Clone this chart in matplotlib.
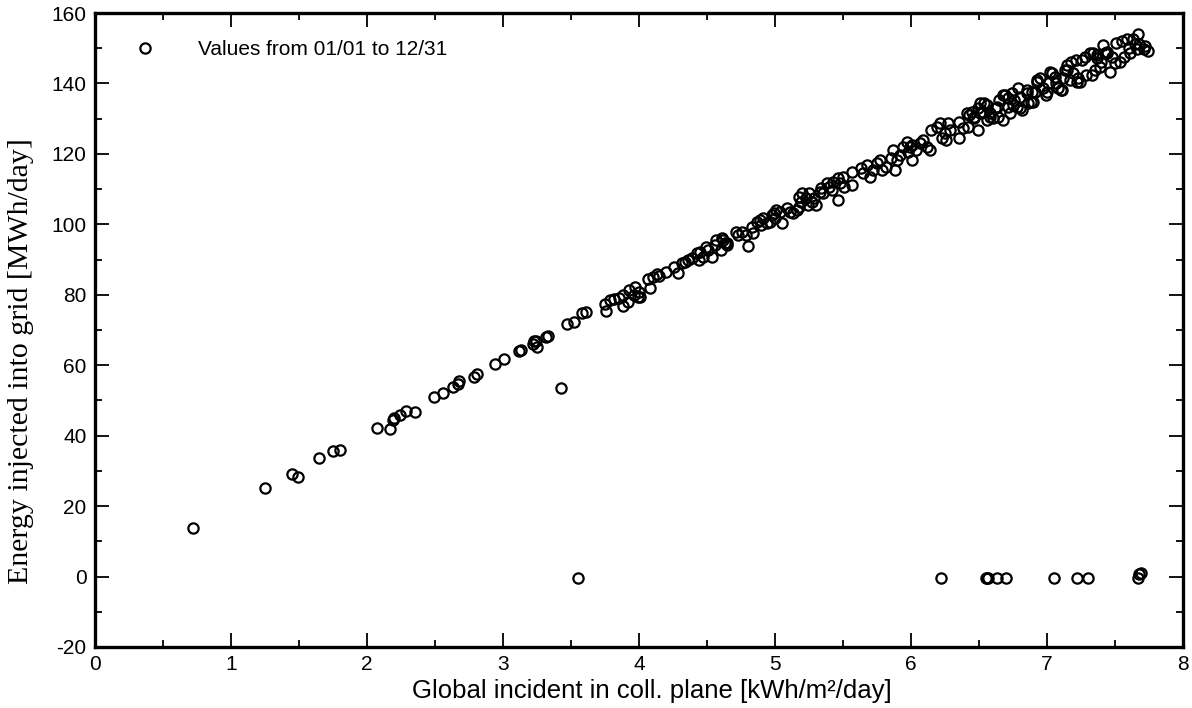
"""Daily grid injection versus global incident irradiation (scatter)."""

import matplotlib

matplotlib.use("Agg")
import matplotlib.pyplot as plt
from matplotlib.ticker import MultipleLocator

plt.rcParams["axes.unicode_minus"] = False

# Low-irradiation days and the obvious outlier
low_x = [0.72, 1.25, 1.45, 1.49, 1.65, 1.75, 1.80, 2.07, 2.17, 2.19, 2.20, 2.24,
         2.29, 2.35, 2.49, 2.56, 2.63, 2.67, 2.68, 2.79, 2.81, 2.94, 3.01, 3.12,
         3.13, 3.22, 3.23, 3.24, 3.25, 3.32, 3.33, 3.43, 3.47, 3.52, 3.58, 3.61]
low_y = [13.8, 25.0, 29.1, 28.4, 33.6, 35.6, 35.9, 42.2, 41.8, 44.4, 44.9, 45.8,
         46.9, 46.6, 51.1, 52.2, 53.9, 54.6, 55.5, 56.6, 57.5, 60.3, 61.8, 63.9,
         64.2, 65.9, 66.8, 67.0, 65.1, 68.1, 68.4, 53.5, 71.8, 72.2, 74.7, 75.2]

# Days with no injection (grid outage)
zero_x = [3.55, 6.22, 6.55, 6.56, 6.57, 6.63, 6.70, 7.05, 7.22, 7.30, 7.67, 7.68, 7.69]
zero_y = [-0.3, -0.3, -0.3, -0.3, -0.3, -0.3, -0.3, -0.3, -0.3, -0.3, -0.3, 0.8, 1.0]

# Dense band, 3.7 - 5.6 kWh/m2/day
mid_x = [3.75, 3.76, 3.79, 3.82, 3.85, 3.88, 3.88, 3.92, 3.93, 3.96, 3.97, 3.99,
         4.00, 4.01, 4.07, 4.08, 4.10, 4.13, 4.15, 4.20, 4.26, 4.29, 4.32, 4.34,
         4.36, 4.39, 4.43, 4.44, 4.45, 4.47, 4.49, 4.51, 4.54, 4.56, 4.57, 4.60,
         4.61, 4.63, 4.65, 4.71, 4.73, 4.76, 4.79, 4.80, 4.83, 4.84, 4.62, 4.65,
         4.87, 4.89, 4.90, 4.91, 4.94, 4.96, 4.98, 4.99, 5.00, 5.01, 5.04, 5.05,
         5.09, 5.11, 5.13, 5.16, 5.18, 5.18, 5.19, 5.20, 5.23, 5.24, 5.25, 5.27,
         5.29, 5.30, 5.33, 5.34, 5.35, 5.38, 5.40, 5.42, 5.43, 5.46, 5.46, 5.48,
         5.50, 5.51, 5.57, 5.57]
mid_y = [77.4, 75.4, 78.5, 78.8, 79.1, 76.8, 80.0, 77.9, 81.4, 80.0, 82.2, 79.4,
         80.8, 79.4, 84.5, 81.9, 85.0, 85.9, 85.3, 86.5, 87.9, 86.2, 89.0, 89.3,
         89.9, 90.4, 91.9, 89.9, 92.1, 90.7, 93.6, 92.7, 90.7, 94.1, 95.5, 92.7,
         96.1, 94.7, 94.7, 97.8, 97.0, 97.8, 97.0, 93.9, 99.2, 97.5, 95.5, 94.1,
         100.7, 101.2, 99.8, 101.8, 100.4, 100.7, 102.6, 103.2, 101.8, 104.1, 103.5, 100.4,
         104.6, 103.5, 103.2, 104.1, 104.9, 107.7, 106.3, 108.9, 107.5, 105.5, 108.9, 106.3,
         107.5, 105.5, 109.2, 110.3, 108.9, 111.7, 110.6, 109.7, 112.0, 106.9, 113.2, 111.7,
         113.4, 110.6, 114.9, 111.2]

# Dense band, 5.6 - 6.9 kWh/m2/day
high_x = [5.63, 5.65, 5.68, 5.70, 5.72, 5.75, 5.77, 5.79, 5.82, 5.85, 5.87, 5.88,
          5.90, 5.92, 5.94, 5.97, 5.98, 5.99, 6.01, 6.01, 6.04, 6.07, 6.09, 6.12,
          6.14, 6.15, 6.19, 6.21, 6.23, 6.25, 6.26, 6.27, 6.29, 6.35, 6.35, 6.38,
          6.42, 6.43, 6.45, 6.46, 6.49, 6.49, 6.51, 6.53, 6.54, 6.56, 6.58, 6.60,
          6.62, 6.64, 6.65, 6.68, 6.69, 6.71, 6.73, 6.74, 6.76, 6.78, 6.80, 6.82,
          6.85, 6.86, 6.89, 6.41, 6.46, 6.51, 6.56, 6.58, 6.63, 6.68, 6.71, 6.75,
          6.79, 6.80, 6.85, 6.88]
high_y = [116.0, 114.6, 116.9, 113.4, 115.4, 117.4, 118.3, 115.4, 116.3, 118.8, 121.1, 115.4,
          118.3, 119.7, 121.9, 123.4, 120.5, 121.9, 118.3, 122.5, 121.1, 123.1, 123.9, 121.9,
          121.1, 126.8, 127.6, 128.8, 124.5, 125.9, 123.9, 128.8, 126.8, 129.1, 124.5, 127.3,
          127.6, 131.0, 131.9, 130.2, 133.0, 126.8, 131.6, 131.9, 134.4, 129.6, 131.6, 130.2,
          133.0, 130.5, 135.3, 129.6, 136.7, 133.3, 131.6, 137.3, 135.3, 133.3, 136.2, 132.5,
          137.3, 134.4, 137.6, 131.6, 130.5, 134.4, 133.9, 130.5, 133.3, 136.7, 135.8, 133.9,
          138.7, 133.0, 138.1, 134.7]

# Top end, 6.9 - 7.75 kWh/m2/day
top_x = [6.90, 6.91, 6.93, 6.95, 6.97, 6.99, 7.01, 7.04, 7.06, 7.08, 7.11, 7.12,
         7.13, 7.15, 7.17, 7.18, 7.21, 7.23, 7.24, 7.26, 7.28, 7.29, 7.32, 7.33,
         7.35, 7.37, 7.39, 7.40, 7.41, 7.43, 7.44, 7.46, 7.48, 7.50, 7.51, 7.54,
         7.55, 7.57, 7.59, 7.60, 7.61, 7.63, 7.65, 7.67, 7.68, 7.71, 7.72, 7.74,
         7.66, 6.93, 7.00, 7.02, 7.07, 7.10, 7.15, 7.19, 7.22, 7.34, 7.37, 7.44]
top_y = [134.7, 137.6, 140.4, 141.5, 138.7, 136.7, 140.1, 142.9, 141.8, 138.7, 138.1, 141.5,
         143.8, 145.2, 140.9, 146.0, 146.6, 141.5, 140.4, 146.6, 147.4, 142.3, 148.6, 142.3,
         143.8, 147.1, 144.6, 146.0, 150.8, 148.6, 148.9, 143.2, 147.4, 145.7, 151.4, 146.0,
         152.0, 147.4, 152.6, 150.0, 148.6, 152.6, 151.1, 154.0, 151.1, 149.7, 150.5, 149.1,
         149.7, 140.9, 137.6, 143.2, 140.1, 138.1, 143.8, 142.9, 140.4, 148.6, 148.0, 148.6]

x_values = low_x + zero_x + mid_x + high_x + top_x
y_values = low_y + zero_y + mid_y + high_y + top_y

x_label = "Global incident in coll. plane [kWh/m²/day]"
y_label = "Energy injected into grid [MWh/day]"
legend_label = "Values from 01/01 to 12/31"

fig = plt.figure(figsize=(11.92, 7.08), dpi=100)
ax = fig.add_axes([0.0797, 0.0862, 0.9127, 0.8954])

ax.plot(x_values, y_values, linestyle="none", marker="o", markersize=7.4,
        markerfacecolor="none", markeredgecolor="black", markeredgewidth=1.6,
        label=legend_label)

ax.set_xlim(0, 8)
ax.set_ylim(-20, 160)
ax.xaxis.set_major_locator(MultipleLocator(1))
ax.xaxis.set_minor_locator(MultipleLocator(0.5))
ax.yaxis.set_major_locator(MultipleLocator(20))
ax.yaxis.set_minor_locator(MultipleLocator(10))

for spine in ax.spines.values():
    spine.set_linewidth(2.4)
ax.tick_params(which="both", direction="in", top=True, right=True, width=1.3)
ax.tick_params(which="major", length=10, labelsize=15, pad=6)
ax.tick_params(which="minor", length=5)
for label in ax.get_xticklabels() + ax.get_yticklabels():
    label.set_fontfamily("Liberation Sans")

ax.set_xlabel(x_label, fontsize=18.5, fontfamily="Liberation Sans")
ax.set_ylabel(y_label, fontsize=21.5, fontfamily="Liberation Serif")
ax.xaxis.set_label_coords(0.512, -0.05)
ax.yaxis.set_label_coords(-0.056, 0.451)

ax.legend(loc="upper left", bbox_to_anchor=(0.023, 0.98), frameon=False,
          handlelength=1.0, handletextpad=2.05, borderaxespad=0.3,
          prop={"family": "Liberation Sans", "size": 15})

fig.savefig("out.png", dpi=100)
